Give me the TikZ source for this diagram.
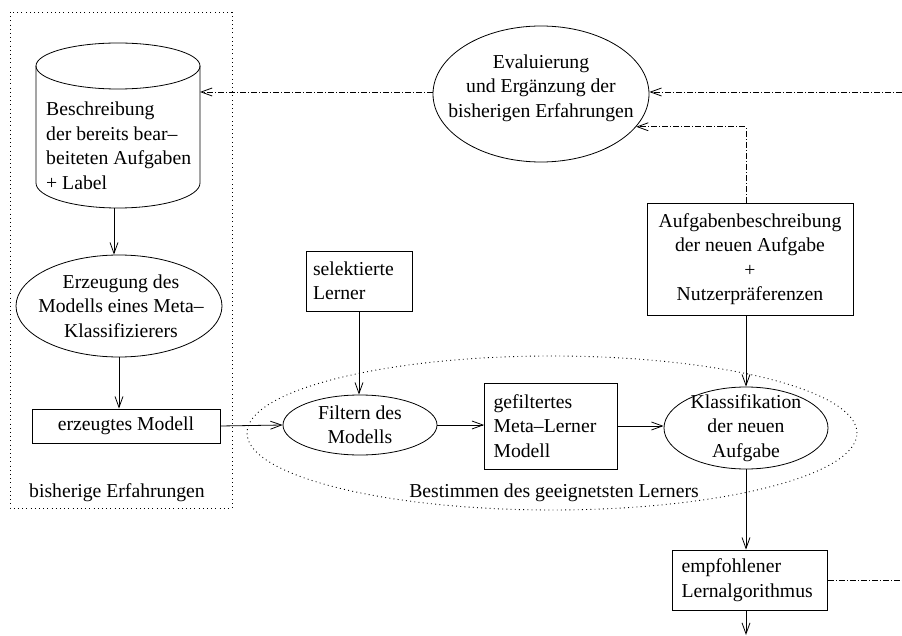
\documentclass[tikz,border=0pt]{standalone}
\usepackage{fontspec}
\setmainfont{Liberation Serif}
\usetikzlibrary{arrows.meta,shapes.geometric}
\begin{document}
\begin{tikzpicture}[x=1pt,y=1pt,
  txt/.style={font=\fontsize{19.7pt}{24.5pt}\selectfont},
  every node/.style={txt},
  wire/.style={line width=0.8pt},
  flow/.style={wire,-{Straight Barb[length=11pt,width=8pt]}},
  dashdot/.style={wire,dash pattern=on 6pt off 2pt on 1pt off 2pt},
  fb/.style={dashdot,-{Straight Barb[length=11pt,width=8pt]}},
  oval/.style={draw,wire,ellipse,inner sep=0pt},
  box/.style={draw,wire,rectangle,inner sep=0pt,align=center},
  lbox/.style={draw,wire,rectangle,inner ysep=0pt,align=left},
  frame/.style={line width=0.9pt,dash pattern=on 0.9pt off 3.3pt}
]
\useasboundingbox (0,0) rectangle (902,-636);

% group frame: previous experience
\draw[frame] (10,-12) rectangle (232,-508);
\node (exp) at (117,-493) {bisherige Erfahrungen};

% database of solved tasks
\draw[wire] (36,-66) -- (36,-183)
  arc[start angle=180,end angle=360,x radius=82pt,y radius=25pt] -- (200,-66);
\draw[wire] (118,-66) ellipse[x radius=82pt,y radius=23pt];
\node[anchor=west,inner sep=0pt,align=left] (db) at (46,-146)
  {Beschreibung\\der bereits bear–\\beiteten Aufgaben\\+ Label};
\coordinate (dbbot) at (114,-208);
\coordinate (dbright) at (200,-92);

% meta classifier
\node[oval,minimum width=206pt,minimum height=102pt] (erz) at (119,-306) {};
\node[align=center] (erzt) at (121,-306)
  {Erzeugung des\\Modells eines Meta–\\Klassifizierers};
\node[box,minimum width=188pt,minimum height=34pt] (model) at (126,-426)
  {erzeugtes Modell};

% evaluation
\node[oval,minimum width=216pt,minimum height=136pt] (eval) at (541,-94) {};
\node[align=center] (evalt) at (541,-88)
  {Evaluierung\\und Ergänzung der\\bisherigen Erfahrungen};

% selecting the best learner
\draw[frame] (552,-433) ellipse[x radius=305pt,y radius=77pt];
\node (best) at (554,-493) {Bestimmen des geeignetsten Lerners};

\node[lbox,text width=92pt,inner xsep=7pt,minimum height=60pt] (sel) at (359,-281)
  {selektierte\\Lerner};
\node[oval,minimum width=154pt,minimum height=60pt] (filt) at (360,-425) {};
\node[align=center] (filtt) at (360,-425) {Filtern des\\Modells};
\node[lbox,text width=115pt,inner xsep=9pt,minimum height=86pt] (gef) at (551,-426)
  {gefiltertes\\Meta–Lerner\\Modell};
\node[oval,minimum width=164pt,minimum height=82pt] (klass) at (746,-428) {};
\node[align=center] (klasst) at (746,-428) {Klassifikation\\der neuen\\Aufgabe};
\node[box,minimum width=206pt,minimum height=112pt] (auf) at (750,-259)
  {Aufgabenbeschreibung\\der neuen Aufgabe\\+\\Nutzerpräferenzen};
\node[lbox,text width=137pt,inner xsep=9pt,minimum height=60pt] (emp) at (750,-580)
  {empfohlener\\Lernalgorithmus};

\coordinate (rin) at (902,-92);
\coordinate (rout) at (902,-580);
\coordinate (down) at (746,-635);

% solid flow
\draw[flow] (dbbot) -- (dbbot |- erz.north);
\draw[flow] (erz.south) -- (erz.south |- model.north);
\draw[flow] (model.east) -- (filt.west);
\draw[flow] (sel.south) -- (sel.south |- filt.north);
\draw[flow] (filt.east) -- (filt.east -| gef.west);
\draw[flow] (gef.east) -- (gef.east -| klass.west);
\draw[flow] (klass.north |- auf.south) -- (klass.north);
\draw[flow] (klass.south) -- (klass.south |- emp.north);
\draw[flow] (emp.south -| klass.south) -- (down);

% feedback paths
\draw[fb] (rin) -- (rin -| eval.east);
\draw[fb] (eval.west |- dbright) -- (dbright);
\draw[fb] (klass.north |- auf.north) |- (eval.-19);
\draw[dashdot] (emp.east) -- (rout);
\end{tikzpicture}
\end{document}
